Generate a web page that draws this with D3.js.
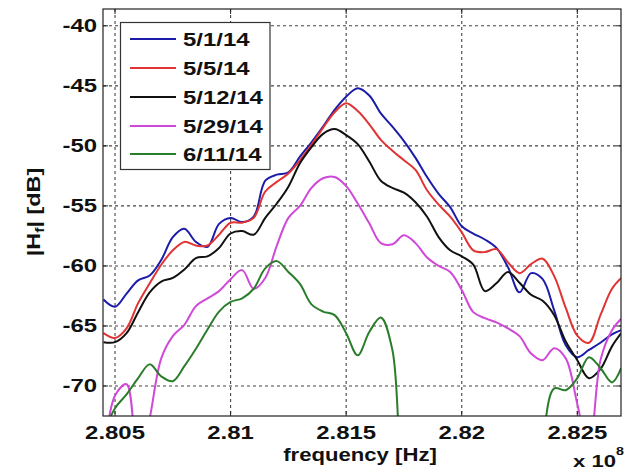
<!DOCTYPE html>
<html>
<head>
<meta charset="utf-8">
<script src="https://cdn.jsdelivr.net/npm/d3@7"></script>
<style>
  html, body { margin: 0; padding: 0; background: #fff; }
  svg { display: block; }
  text { font-family: "Liberation Sans", Arial, Helvetica, sans-serif; font-weight: bold; fill: #111; }
</style>
</head>
<body>
<svg id="chart" width="633" height="474"></svg>
<script>
// Frequency samples, in units of 1e8 Hz
const freq = [2.8045, 2.8050, 2.8055, 2.8060, 2.8065, 2.8070, 2.8075, 2.8080, 2.8085, 2.8090,
              2.8095, 2.8100, 2.8105, 2.8110, 2.8115, 2.8120, 2.8125, 2.8130, 2.8135, 2.8140,
              2.8145, 2.8150, 2.8155, 2.8160, 2.8165, 2.8170, 2.8175, 2.8180, 2.8185, 2.8190,
              2.8195, 2.8200, 2.8205, 2.8210, 2.8215, 2.8220, 2.8225, 2.8230, 2.8235, 2.8240,
              2.8245, 2.8250, 2.8255, 2.8260, 2.8265, 2.8269];

// |H_f| in dB for each measurement date
const may01 = [-62.8, -63.4, -62.3, -61.2, -60.8, -59.5, -57.6, -56.9, -58.0, -58.4,
               -56.5, -56.0, -56.35, -55.9, -52.9, -52.4, -52.2, -50.9, -49.7, -48.4,
               -47.0, -45.9, -45.2, -45.8, -47.3, -48.4, -49.6, -51.0, -52.6, -54.0,
               -55.1, -56.7, -57.3, -57.8, -58.5, -60.1, -62.2, -60.6, -61.1, -63.7,
               -66.6, -67.6, -67.0, -66.4, -65.7, -65.35];
const may05 = [-65.6, -66.0, -65.2, -63.1, -61.45, -59.9, -58.7, -58.0, -58.3, -58.3,
               -57.4, -56.4, -56.4, -56.0, -53.8, -53.0, -52.3, -51.2, -49.9, -48.5,
               -47.2, -46.45, -47.1, -48.2, -49.5, -50.4, -51.2, -52.0, -53.7, -54.9,
               -55.9, -57.2, -58.7, -58.85, -58.6, -59.7, -60.6, -59.85, -59.4, -60.85,
               -63.5, -65.8, -66.4, -64.1, -61.9, -61.0];
const may12 = [-66.35, -66.35, -65.6, -63.85, -62.2, -61.3, -61.0, -60.3, -59.35, -59.2,
               -58.5, -57.3, -57.1, -57.4, -56.0, -54.8, -53.4, -51.45, -50.1, -49.0,
               -48.6, -49.1, -49.85, -51.3, -52.9, -53.5, -53.9, -54.7, -55.9, -57.6,
               -58.7, -59.2, -59.9, -62.1, -61.45, -60.5, -61.4, -62.4, -62.9, -64.1,
               -66.3, -67.85, -69.35, -68.6, -66.7, -65.6];
const may29 = [-76.0, -70.8, -69.85, -77.0, -72.7, -67.7, -65.85, -64.9, -63.35, -62.7,
               -62.1, -61.1, -60.35, -61.9, -61.0, -58.3, -56.0, -55.0, -53.5, -52.7,
               -52.6, -53.35, -54.8, -56.45, -58.1, -58.2, -57.45, -58.1, -59.3, -60.0,
               -60.5, -62.0, -63.85, -64.35, -64.7, -65.2, -65.85, -67.3, -67.85, -66.85,
               -67.7, -71.5, -75.5, -67.85, -65.35, -64.4];
const jun11 = [-74.0, -71.85, -70.7, -69.35, -68.2, -69.2, -69.6, -68.35, -66.9, -65.3,
               -63.8, -63.0, -62.7, -61.9, -60.2, -59.6, -60.5, -61.5, -63.2, -63.8,
               -64.1, -65.6, -67.45, -65.5, -64.3, -67.0, -78.0, -80.0, -80.0, -80.0,
               -80.0, -80.0, -80.0, -80.0, -80.0, -80.0, -80.0, -80.0, -74.5, -70.2,
               -70.35, -69.35, -67.6, -68.5, -69.7, -68.5];

const seriesNames = ["5/1/14", "5/5/14", "5/12/14", "5/29/14", "6/11/14"];
const seriesValues = [may01, may05, may12, may29, jun11];
const seriesColors = ["#1c1ca8", "#e03434", "#111111", "#d048d8", "#2a7d2a"];

const xTicks = [2.805, 2.81, 2.815, 2.82, 2.825];
const xTickLabels = ["2.805", "2.81", "2.815", "2.82", "2.825"];
const yTicks = [-70, -65, -60, -55, -50, -45, -40];
const yTickLabels = ["-70", "-65", "-60", "-55", "-50", "-45", "-40"];

const svg = d3.select("#chart");
const L = 103, R = 621, T = 9, B = 416;

const x = d3.scaleLinear().domain([2.80448, 2.82689]).range([L, R]);
const y = d3.scaleLinear().domain([-72.5, -38.6]).range([B, T]);

svg.append("defs").append("clipPath").attr("id", "plotClip")
  .append("rect").attr("x", L).attr("y", T).attr("width", R - L).attr("height", B - T);

// Dotted grid
const grid = svg.append("g").attr("stroke", "#444").attr("stroke-width", 1.1)
  .attr("stroke-dasharray", "3,3");
grid.selectAll(".gx").data(xTicks).join("line")
  .attr("x1", d => x(d)).attr("x2", d => x(d)).attr("y1", T).attr("y2", B);
grid.selectAll(".gy").data(yTicks).join("line")
  .attr("x1", L).attr("x2", R).attr("y1", d => y(d)).attr("y2", d => y(d));

// Inward tick marks on all four sides
const ticks = svg.append("g").attr("stroke", "#222").attr("stroke-width", 1);
const tl = 5;
xTicks.forEach(v => {
  ticks.append("line").attr("x1", x(v)).attr("x2", x(v)).attr("y1", B).attr("y2", B - tl);
  ticks.append("line").attr("x1", x(v)).attr("x2", x(v)).attr("y1", T).attr("y2", T + tl);
});
yTicks.forEach(v => {
  ticks.append("line").attr("x1", L).attr("x2", L + tl).attr("y1", y(v)).attr("y2", y(v));
  ticks.append("line").attr("x1", R).attr("x2", R - tl).attr("y1", y(v)).attr("y2", y(v));
});

// Curves
const line = d3.line()
  .x((d, i) => x(freq[i]))
  .y(d => y(d))
  .curve(d3.curveCatmullRom.alpha(0.5));

svg.append("g").attr("clip-path", "url(#plotClip)")
  .selectAll("path").data(seriesValues).join("path")
  .attr("d", d => line(d))
  .attr("fill", "none")
  .attr("stroke", (d, i) => seriesColors[i])
  .attr("stroke-width", 2)
  .attr("stroke-linejoin", "round");

// Axes box
svg.append("rect").attr("x", L).attr("y", T).attr("width", R - L).attr("height", B - T)
  .attr("fill", "none").attr("stroke", "#222").attr("stroke-width", 1.2);

// Tick labels
const sx = 1.33;
svg.append("g").selectAll("text").data(xTicks).join("text")
  .attr("transform", d => `translate(${x(d)},439) scale(${sx},1)`)
  .attr("text-anchor", "middle")
  .attr("font-size", 18)
  .text((d, i) => xTickLabels[i]);

svg.append("g").selectAll("text").data(yTicks).join("text")
  .attr("transform", d => `translate(97,${y(d) + 6.5}) scale(${sx},1)`)
  .attr("text-anchor", "end")
  .attr("font-size", 18)
  .text((d, i) => yTickLabels[i]);

// Axis titles
svg.append("text")
  .attr("transform", `translate(360,461) scale(1.23,1)`)
  .attr("text-anchor", "middle").attr("font-size", 18)
  .text("frequency [Hz]");

const yl = svg.append("text")
  .attr("transform", `translate(40,212) rotate(-90) scale(1.3,1)`)
  .attr("text-anchor", "middle").attr("font-size", 18);
yl.append("tspan").text("|H");
yl.append("tspan").attr("font-size", 12).attr("dy", 4).text("f");
yl.append("tspan").attr("dy", -4).text("| [dB]");

const ex = svg.append("text")
  .attr("transform", `translate(573,467) scale(1.3,1)`)
  .attr("font-size", 17);
ex.append("tspan").text("x 10");
ex.append("tspan").attr("font-size", 11).attr("dy", -12).text("8");

// Legend
const lg = svg.append("g");
lg.append("rect").attr("x", 120.5).attr("y", 22.5).attr("width", 149.5).attr("height", 147)
  .attr("fill", "#fff").attr("stroke", "#333").attr("stroke-width", 1.2);
const rows = [39, 68, 97, 126, 154];
seriesNames.forEach((name, i) => {
  lg.append("line").attr("x1", 130).attr("x2", 176).attr("y1", rows[i]).attr("y2", rows[i])
    .attr("stroke", seriesColors[i]).attr("stroke-width", 2);
  lg.append("text")
    .attr("transform", `translate(183,${rows[i] + 6.5}) scale(${sx},1)`)
    .attr("font-size", 18)
    .text(name);
});
</script>
</body>
</html>
